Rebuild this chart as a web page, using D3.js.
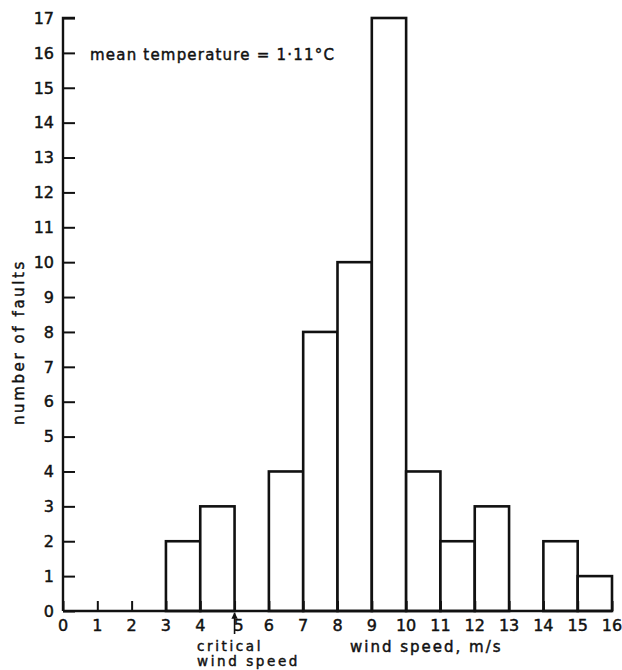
<!DOCTYPE html>
<html><head><meta charset="utf-8">
<script src="https://cdn.jsdelivr.net/npm/d3@7"></script>
<style>body{margin:0;background:#fff}svg{display:block}text{font-family:"DejaVu Sans",sans-serif;fill:#111;stroke:#111;stroke-width:0.45px}</style>
</head><body><svg id="c" width="622" height="670"></svg>
<script>
const binStarts = [3, 4, 6, 7, 8, 9, 10, 11, 12, 14, 15];
const faults    = [2, 3, 4, 8, 10, 17, 4, 2, 3, 2, 1];
const xTicks = d3.range(0, 17);
const yTicks = d3.range(0, 18);
const annotation = "mean temperature = 1·11°C";
const xLabel = "wind speed, m/s";
const yLabel = "number of faults";
const criticalSpeed = 5;
const criticalLines = ["critical", "wind speed"];

const svg = d3.select("#c");
const x = d3.scaleLinear().domain([0, 16]).range([63, 612]);
const y = d3.scaleLinear().domain([0, 17]).range([611, 18]);

// bars
svg.append("g").selectAll("rect").data(binStarts).join("rect")
  .attr("x", d => x(d)).attr("width", d => x(d + 1) - x(d))
  .attr("y", (d, i) => y(faults[i])).attr("height", (d, i) => y(0) - y(faults[i]))
  .attr("fill", "#fff").attr("stroke", "#111").attr("stroke-width", 2.6);

// y axis
const yAxis = svg.append("g").attr("transform", `translate(${x(0)},0)`)
  .call(d3.axisRight(y).tickValues(yTicks).tickSize(12).tickFormat(""));
yAxis.select(".domain").attr("stroke", "#111").attr("stroke-width", 2.4).attr("d", `M0,${y(0)}V${y(17)}H12`);
yAxis.selectAll(".tick line").attr("stroke", "#111").attr("stroke-width", 2);
svg.append("g").selectAll("text").data(yTicks).join("text")
  .attr("x", 54).attr("y", d => y(d)).attr("dy", "0.36em").attr("text-anchor", "end")
  .attr("font-size", 16).text(d => d);

// x axis
const xAxis = svg.append("g").attr("transform", `translate(0,${y(0)})`)
  .call(d3.axisTop(x).tickValues(xTicks).tickSize(10).tickFormat(""));
xAxis.select(".domain").attr("stroke", "#111").attr("stroke-width", 2.4).attr("d", `M${x(0)},0H${x(16)}`);
xAxis.selectAll(".tick line").attr("stroke", "#111").attr("stroke-width", 2);
svg.append("g").selectAll("text").data(xTicks).join("text")
  .attr("x", d => x(d) + (d === criticalSpeed ? 4 : 0)).attr("y", 631).attr("text-anchor", "middle")
  .attr("font-size", 16).text(d => d);

// critical arrow
svg.append("defs").append("marker").attr("id", "ah").attr("viewBox", "0 0 10 10")
  .attr("refX", 9).attr("refY", 5).attr("markerWidth", 4).attr("markerHeight", 5).attr("orient", "auto")
  .append("path").attr("d", "M0,0L10,5L0,10Z").attr("fill", "#111");
svg.append("line").attr("x1", x(criticalSpeed)).attr("x2", x(criticalSpeed))
  .attr("y1", 634).attr("y2", y(0) + 2).attr("stroke", "#111").attr("stroke-width", 1.6)
  .attr("marker-end", "url(#ah)");
svg.append("text").attr("x", 197).attr("y", 651).attr("font-size", 13.5).attr("letter-spacing", 2.6)
  .selectAll("tspan").data(criticalLines).join("tspan")
  .attr("x", 197).attr("dy", (d, i) => i ? 15 : 0).text(d => d);

// labels
svg.append("text").attr("x", 350).attr("y", 652).attr("font-size", 15).attr("letter-spacing", 2).text(xLabel);
svg.append("text").attr("transform", "translate(24,342) rotate(-90)").attr("text-anchor", "middle")
  .attr("font-size", 15).attr("letter-spacing", 2.6).text(yLabel);
svg.append("text").attr("x", 90).attr("y", 60).attr("font-size", 15).attr("letter-spacing", 1.2).text(annotation);
</script></body></html>
